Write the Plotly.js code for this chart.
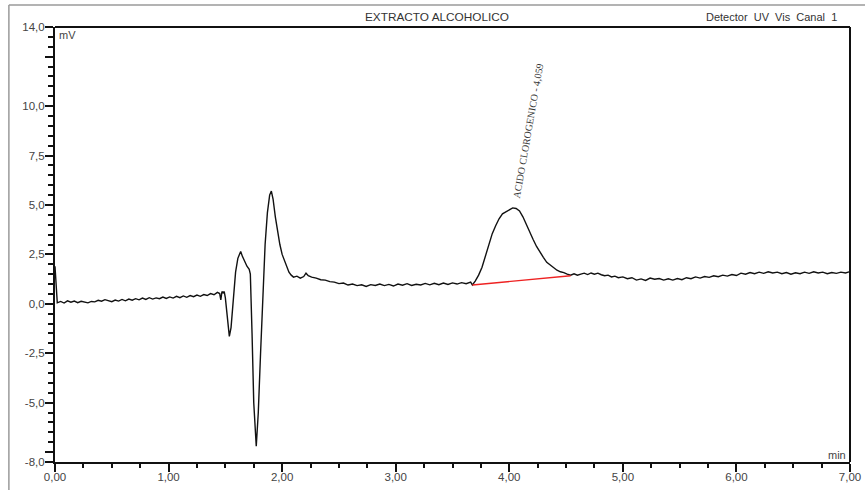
<!DOCTYPE html>
<html>
<head>
<meta charset="utf-8">
<script src="https://cdn.plot.ly/plotly-3.0.1.min.js"></script>
<style>html,body{margin:0;padding:0;background:#fff;}#chart{width:865px;height:490px;}</style>
</head>
<body>
<div id="chart"></div>
<script>
// retention time (min)
const timeMin = [0.00,0.01,0.02,0.05,0.08,0.11,0.14,0.17,0.20,0.23,0.26,0.29,0.32,0.35,0.38,0.41,0.44,0.47,0.50,0.53,0.56,0.59,0.62,0.65,0.68,0.71,0.74,0.77,0.80,0.83,0.86,0.89,0.92,0.95,0.98,1.01,1.04,1.07,1.10,1.13,1.16,1.19,1.22,1.25,1.28,1.31,1.34,1.37,1.40,1.43,1.45,1.46,1.465,1.47,1.48,1.49,1.50,1.51,1.52,1.535,1.55,1.57,1.59,1.61,1.635,1.65,1.67,1.69,1.71,1.72,1.735,1.75,1.772,1.79,1.81,1.83,1.85,1.87,1.89,1.905,1.92,1.94,1.96,1.98,2.00,2.02,2.04,2.06,2.08,2.10,2.13,2.16,2.19,2.21,2.23,2.26,2.30,2.34,2.38,2.42,2.46,2.50,2.54,2.58,2.62,2.66,2.70,2.74,2.78,2.82,2.86,2.90,2.94,2.98,3.02,3.06,3.10,3.14,3.18,3.22,3.26,3.30,3.34,3.38,3.42,3.46,3.50,3.54,3.58,3.62,3.66,3.675,3.70,3.73,3.76,3.79,3.82,3.85,3.88,3.91,3.94,3.97,4.00,4.03,4.06,4.09,4.12,4.15,4.18,4.21,4.24,4.27,4.30,4.33,4.36,4.39,4.42,4.45,4.48,4.51,4.54,4.57,4.60,4.63,4.66,4.69,4.72,4.75,4.78,4.81,4.84,4.87,4.90,4.93,4.96,5.00,5.04,5.08,5.12,5.16,5.20,5.24,5.28,5.32,5.36,5.40,5.44,5.48,5.52,5.56,5.60,5.64,5.68,5.72,5.76,5.80,5.84,5.88,5.92,5.96,6.00,6.04,6.08,6.12,6.16,6.20,6.24,6.28,6.32,6.36,6.40,6.44,6.48,6.52,6.56,6.60,6.64,6.68,6.72,6.76,6.80,6.84,6.88,6.92,6.96,7.00];
// detector signal (mV)
const signalMv = [1.90,0.60,0.05,0.12,0.04,0.15,0.08,0.14,0.06,0.13,0.09,0.05,0.12,0.10,0.18,0.13,0.21,0.17,0.11,0.19,0.14,0.22,0.15,0.24,0.18,0.26,0.20,0.29,0.22,0.31,0.24,0.30,0.26,0.34,0.27,0.35,0.29,0.38,0.31,0.40,0.33,0.42,0.36,0.44,0.38,0.47,0.42,0.52,0.46,0.58,0.52,0.20,0.60,0.62,0.55,0.62,0.30,-0.30,-1.00,-1.65,-1.20,0.20,1.60,2.30,2.65,2.40,2.10,1.90,1.75,1.50,-1.50,-5.00,-7.20,-5.50,-2.50,0.50,3.00,4.60,5.50,5.70,5.30,4.40,3.60,3.00,2.50,2.20,1.90,1.60,1.45,1.35,1.40,1.30,1.38,1.55,1.42,1.35,1.30,1.22,1.20,1.12,1.10,1.02,1.05,0.95,1.00,0.92,0.96,0.88,0.97,0.93,1.00,0.92,0.98,0.90,1.00,0.94,1.02,0.93,0.99,0.95,1.03,0.96,1.04,0.97,1.05,0.98,1.06,1.00,1.07,1.02,1.10,0.95,1.15,1.45,1.85,2.45,3.05,3.55,3.95,4.30,4.55,4.65,4.75,4.85,4.82,4.70,4.40,4.00,3.60,3.25,2.90,2.60,2.35,2.10,1.95,1.80,1.70,1.62,1.58,1.50,1.45,1.52,1.45,1.50,1.55,1.48,1.56,1.50,1.55,1.47,1.42,1.45,1.36,1.40,1.32,1.36,1.27,1.32,1.20,1.26,1.18,1.30,1.24,1.28,1.20,1.27,1.20,1.28,1.22,1.32,1.27,1.36,1.30,1.38,1.34,1.42,1.37,1.45,1.40,1.48,1.43,1.55,1.50,1.58,1.52,1.60,1.54,1.62,1.56,1.60,1.52,1.58,1.50,1.57,1.52,1.60,1.54,1.62,1.56,1.60,1.52,1.58,1.54,1.60,1.56,1.63];
// integration baseline of the peak
const baseTime = [3.675, 4.54];
const baseMv = [0.95, 1.42];
// y tick labels
const yTickVals = [-8, -7.5, -5, -2.5, 0, 2.5, 5, 7.5, 10, 12.5, 14];
const yTickText = ['-8,0', '', '-5,0', '-2,5', '0,0', '2,5', '5,0', '7,5', '10,0', '', '14,0'];
const xTickVals = [0, 1, 2, 3, 4, 5, 6, 7];
const xTickText = ['0,00', '1,00', '2,00', '3,00', '4,00', '5,00', '6,00', '7,00'];
const peakLabel = 'ACIDO CLOROGENICO - 4,059';
const peakTime = 4.059;

const font = 'Arial, "Liberation Sans", sans-serif';
const traces = [
  {x: timeMin, y: signalMv, type: 'scatter', mode: 'lines', line: {color: '#111', width: 1.4}, hoverinfo: 'skip'},
  {x: baseTime, y: baseMv, type: 'scatter', mode: 'lines', line: {color: '#ee2222', width: 1.4}, hoverinfo: 'skip'}
];
const gray = '#9a9a9a';
const layout = {
  width: 865, height: 490,
  margin: {l: 55, r: 15, t: 27, b: 28},
  paper_bgcolor: '#fff', plot_bgcolor: '#fff',
  showlegend: false,
  font: {family: font, size: 11, color: '#444'},
  xaxis: {
    range: [0, 7], showgrid: false, zeroline: false,
    showline: true, linecolor: '#111', linewidth: 1.5, mirror: false,
    tickmode: 'array', tickvals: xTickVals, ticktext: xTickText,
    ticks: 'outside', ticklen: 8, tickwidth: 2, tickcolor: '#111',
    ticklabelstandoff: -4,
    minor: {dtick: 0.25, tick0: 0, ticks: 'outside', ticklen: 4, tickwidth: 2, tickcolor: '#111'},
    tickfont: {family: font, size: 11.5, color: '#444'}
  },
  yaxis: {
    range: [-8, 14], showgrid: false, zeroline: false,
    showline: true, linecolor: '#111', linewidth: 2, mirror: false,
    tickmode: 'array', tickvals: yTickVals, ticktext: yTickText,
    ticks: 'outside', ticklen: 8, tickwidth: 2, tickcolor: '#111',
    ticklabelstandoff: -2,
    minor: {dtick: 0.5, tick0: 0, ticks: 'outside', ticklen: 5, tickwidth: 2, tickcolor: '#111'},
    tickfont: {family: font, size: 11.5, color: '#444'}
  },
  shapes: [
    {type: 'line', xref: 'paper', yref: 'paper', x0: 0, x1: 1, y0: 1, y1: 1, line: {color: '#111', width: 2}},
    {type: 'line', xref: 'paper', yref: 'paper', x0: 1, x1: 1, y0: 0, y1: 1, line: {color: '#111', width: 2}},
    {type: 'line', xref: 'paper', yref: 'paper', x0: -0.058, x1: 1.03, y0: 1.0506, y1: 1.0506, line: {color: gray, width: 1.5}},
    {type: 'line', xref: 'paper', yref: 'paper', x0: -0.058, x1: -0.058, y0: -0.08, y1: 1.0506, line: {color: gray, width: 1.5}}
  ],
  annotations: [
    {text: 'EXTRACTO ALCOHOLICO', xref: 'paper', yref: 'paper', x: 0.4805, y: 1.023, xanchor: 'center', yanchor: 'middle', showarrow: false, font: {family: font, size: 11.8, color: '#333'}},
    {text: 'Detector  UV  Vis  Canal  1', xref: 'paper', yref: 'paper', x: 0.986, y: 1.023, xanchor: 'right', yanchor: 'middle', showarrow: false, font: {family: font, size: 11, color: '#333'}},
    {text: 'mV', xref: 'paper', yref: 'paper', x: 0.003, y: 0.982, xanchor: 'left', yanchor: 'middle', showarrow: false, font: {family: font, size: 11, color: '#444'}},
    {text: 'min', xref: 'paper', yref: 'paper', x: 0.998, y: 0.017, xanchor: 'right', yanchor: 'middle', showarrow: false, font: {family: font, size: 11, color: '#444'}},
    {text: peakLabel, xref: 'x', yref: 'y', x: peakTime + 0.11, y: 8.75, xanchor: 'center', yanchor: 'middle', textangle: -80, showarrow: false, font: {family: '"Liberation Serif", "DejaVu Serif", serif', size: 10, color: '#333'}}
  ],
  separators: ',.'
};
Plotly.newPlot('chart', traces, layout, {staticPlot: true, displayModeBar: false});
</script>
</body>
</html>
